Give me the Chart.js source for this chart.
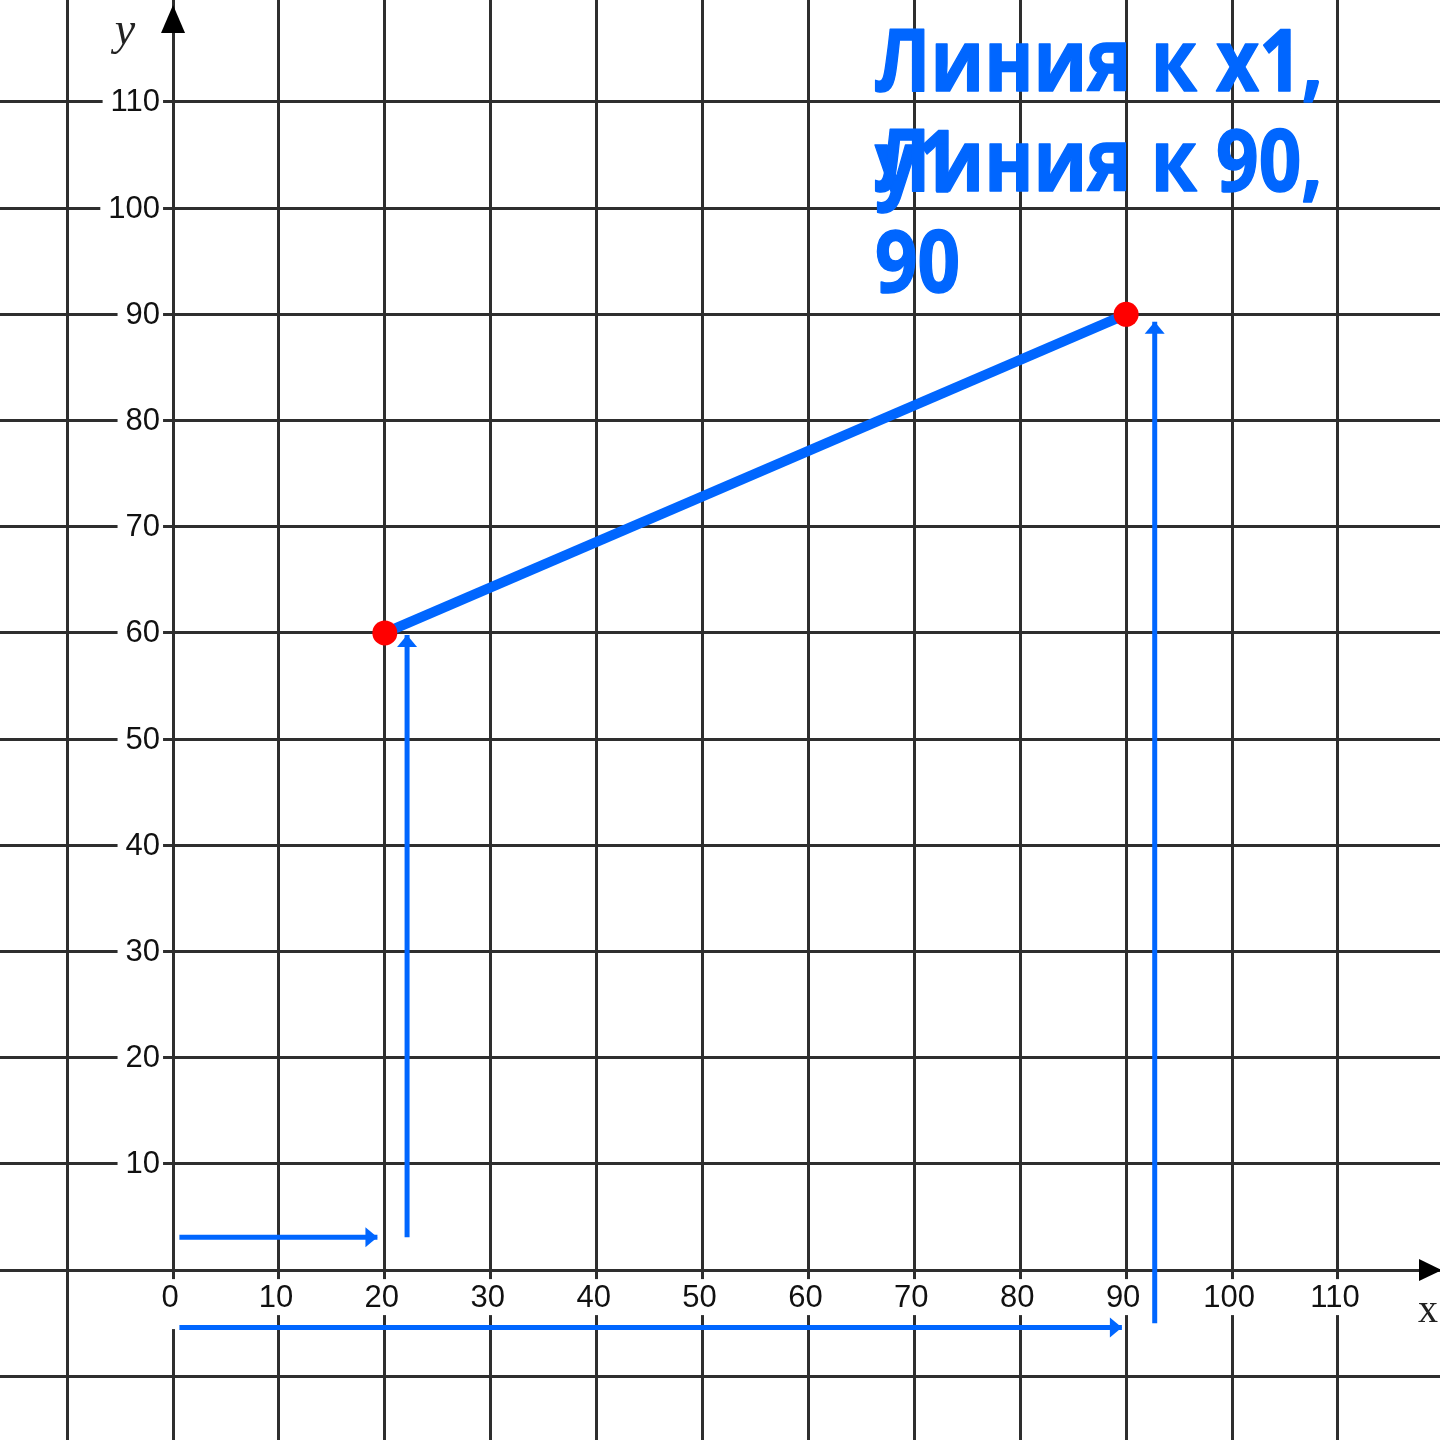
<!DOCTYPE html>
<html><head><meta charset="utf-8">
<script src="https://cdn.jsdelivr.net/npm/chart.js@4/dist/chart.umd.min.js"></script>
<style>html,body{margin:0;padding:0;background:#fff}#wrap{width:1440px;height:1440px}</style>
</head><body><div id="wrap"><canvas id="c" width="1440" height="1440"></canvas></div>
<script>
// ---- data ----
const gridX = [-10, 0, 10, 20, 30, 40, 50, 60, 70, 80, 90, 100, 110];
const gridY = [-10, 0, 10, 20, 30, 40, 50, 60, 70, 80, 90, 100, 110];
const xTickValues = [0, 10, 20, 30, 40, 50, 60, 70, 80, 90, 100, 110];
const xTickLabels = ['0', '10', '20', '30', '40', '50', '60', '70', '80', '90', '100', '110'];
const yTickValues = [10, 20, 30, 40, 50, 60, 70, 80, 90, 100, 110];
const yTickLabels = ['10', '20', '30', '40', '50', '60', '70', '80', '90', '100', '110'];
const segmentX = [20, 90];
const segmentY = [60, 90];
const arrow1X = [0.6, 19.3];   const arrow1Y = [3.1, 3.1];
const arrow2X = [22.1, 22.1];  const arrow2Y = [3.1, 59.8];
const arrow3X = [0.6, 89.6];   const arrow3Y = [-5.4, -5.4];
const arrow4X = [92.7, 92.7];  const arrow4Y = [-5.0, 89.3];
const label1Lines = ['Линия к x1,', 'y1'];
const label2Lines = ['Линия к 90,', '90'];
const axisNameX = 'x';
const axisNameY = 'y';

// ---- styles ----
const BLUE = '#0066FF';
const GRID = '#2e2e2e';
const toPts = (xs, ys) => xs.map((v, i) => ({ x: v, y: ys[i] }));
const arrowDs = (xs, ys) => ({
  type: 'line', data: toPts(xs, ys), borderColor: BLUE, borderWidth: 5,
  pointRadius: 0, pointHoverRadius: 0, fill: false, tension: 0, isArrow: true
});

const labelsPlugin = {
  id: 'axisLabels',
  beforeDatasetsDraw(chart) {
    const { ctx, scales: { x, y } } = chart;
    const x0 = x.getPixelForValue(0), y0 = y.getPixelForValue(0);
    ctx.save();
    ctx.font = '31px "Liberation Sans", Arial, sans-serif';
    ctx.textBaseline = 'middle';
    // y tick labels
    ctx.textAlign = 'right';
    yTickValues.forEach((v, i) => {
      const py = y.getPixelForValue(v);
      const t = yTickLabels[i];
      const w = ctx.measureText(t).width;
      const right = x0 - 13;
      ctx.fillStyle = '#fff';
      ctx.fillRect(right - w - 8, py - 12, w + 11, 24);
      ctx.fillStyle = '#111';
      ctx.fillText(t, right, py + 1);
    });
    // x tick labels
    ctx.textAlign = 'center';
    xTickValues.forEach((v, i) => {
      const px = x.getPixelForValue(v) - 3;
      const t = xTickLabels[i];
      const w = ctx.measureText(t).width;
      const cy = y0 + 28;
      ctx.fillStyle = '#fff';
      ctx.fillRect(px - w / 2 - 3, y0 + 9, w + 6, v === 0 ? 50 : 36);
      ctx.fillStyle = '#111';
      ctx.fillText(t, px, cy);
    });
    // axis arrowheads
    ctx.fillStyle = '#000';
    ctx.beginPath();
    ctx.moveTo(x0, 5); ctx.lineTo(x0 - 12, 33); ctx.lineTo(x0 + 12, 33); ctx.closePath(); ctx.fill();
    ctx.beginPath();
    ctx.moveTo(1442, y0); ctx.lineTo(1419, y0 - 11); ctx.lineTo(1419, y0 + 11); ctx.closePath(); ctx.fill();
    // axis names
    ctx.fillStyle = '#222';
    ctx.textAlign = 'center';
    ctx.textBaseline = 'alphabetic';
    ctx.font = 'italic 46px "Liberation Serif", "DejaVu Serif", serif';
    ctx.fillText(axisNameY, x0 - 48, 44);
    ctx.font = '40px "Liberation Serif", "DejaVu Serif", serif';
    ctx.fillText(axisNameX, 1428, y0 + 52);
    ctx.restore();
  },
  afterDatasetsDraw(chart) {
    const { ctx } = chart;
    ctx.save();
    ctx.fillStyle = BLUE;
    chart.data.datasets.forEach((ds, i) => {
      if (!ds.isArrow) return;
      const pts = chart.getDatasetMeta(i).data;
      const a = pts[pts.length - 2], b = pts[pts.length - 1];
      const ang = Math.atan2(b.y - a.y, b.x - a.x);
      const L = 12, H = 10;
      ctx.beginPath();
      ctx.moveTo(b.x, b.y);
      ctx.lineTo(b.x - L * Math.cos(ang) + H * Math.sin(ang), b.y - L * Math.sin(ang) - H * Math.cos(ang));
      ctx.lineTo(b.x - L * Math.cos(ang) - H * Math.sin(ang), b.y - L * Math.sin(ang) + H * Math.cos(ang));
      ctx.closePath();
      ctx.fill();
    });
    ctx.restore();
  },
  afterDraw(chart) {
    const { ctx } = chart;
    ctx.save();
    ctx.fillStyle = BLUE;
    ctx.strokeStyle = BLUE;
    ctx.lineWidth = 1.5;
    ctx.lineJoin = 'round';
    ctx.font = 'bold 86px "Open Sans", "Noto Sans", sans-serif';
    ctx.textAlign = 'left';
    ctx.textBaseline = 'alphabetic';
    const sx = 448 / ctx.measureText(label1Lines[0]).width;
    const drawLines = (lines, left, top) => {
      lines.forEach((t, i) => {
        ctx.save();
        ctx.translate(left, top + i * 101);
        ctx.scale(sx, 1);
        ctx.fillText(t, 0, 0);
        ctx.strokeText(t, 0, 0);
        ctx.restore();
      });
    };
    drawLines(label1Lines, 875, 91);
    drawLines(label2Lines, 875, 191);
    ctx.restore();
  }
};

const gridOpts = { color: GRID, lineWidth: 3, drawTicks: false };
new Chart(document.getElementById('c'), {
  type: 'scatter',
  data: {
    datasets: [
      {
        type: 'line', data: toPts(segmentX, segmentY), borderColor: BLUE, borderWidth: 10,
        pointRadius: 12.5, pointHoverRadius: 12.5, pointBackgroundColor: '#FF0000',
        pointBorderWidth: 0, fill: false, tension: 0
      },
      arrowDs(arrow1X, arrow1Y),
      arrowDs(arrow2X, arrow2Y),
      arrowDs(arrow3X, arrow3Y),
      arrowDs(arrow4X, arrow4Y)
    ]
  },
  options: {
    responsive: false, animation: false, devicePixelRatio: 1, events: [],
    layout: { padding: 0, autoPadding: false },
    plugins: { legend: { display: false }, tooltip: { enabled: false }, title: { display: false } },
    scales: {
      x: {
        type: 'linear', min: -16.34, max: 119.64,
        afterBuildTicks: s => { s.ticks = gridX.map(v => ({ value: v })); },
        ticks: { display: false }, grid: gridOpts, border: { display: false }
      },
      y: {
        type: 'linear', min: -16.0, max: 119.6,
        afterBuildTicks: s => { s.ticks = gridY.map(v => ({ value: v })); },
        ticks: { display: false }, grid: gridOpts, border: { display: false }
      }
    }
  },
  plugins: [labelsPlugin]
});
</script>
</body></html>
